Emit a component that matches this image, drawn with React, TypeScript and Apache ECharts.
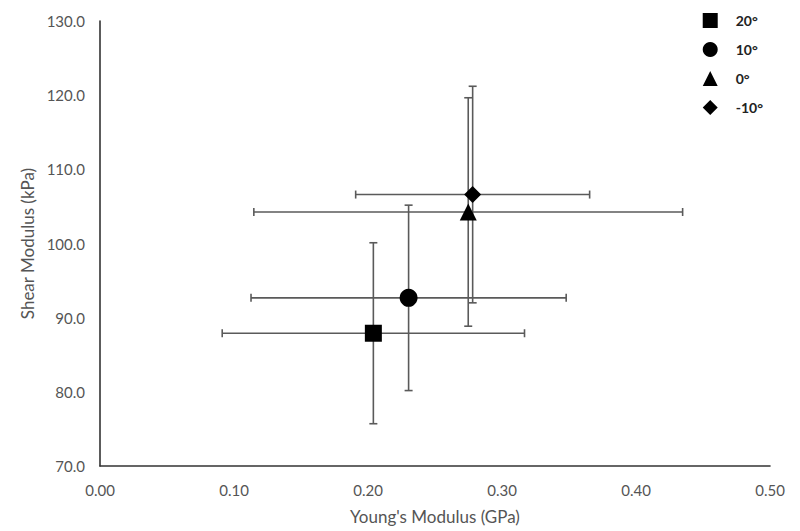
import React, { useEffect, useRef } from "react";
import * as echarts from "echarts";

const seriesNames = ["20°", "10°", "0°", "-10°"];
const symbols = ["rect", "circle", "triangle", "diamond"];
const symbolSizes = [17, 18, 17, 17];
const youngsModulus = [0.204, 0.2303, 0.2748, 0.2781];
const youngsErr = [0.1128, 0.1176, 0.16, 0.0873];
const shearModulus = [87.9, 92.67, 104.25, 106.6];
const shearErr = [12.2, 12.5, 15.4, 14.6];
const xTicks = { min: 0, max: 0.5, interval: 0.1 };
const yTicks = { min: 70, max: 130, interval: 10 };

const FONT = "Lato, 'Open Sans', sans-serif";

export default function App() {
  const ref = useRef<HTMLDivElement>(null);
  useEffect(() => {
    if (!ref.current) return;
    const chart = echarts.init(ref.current, null, { renderer: "svg" });
    const errData = seriesNames.map((_, i) => [
      youngsModulus[i],
      shearModulus[i],
      youngsErr[i],
      shearErr[i],
    ]);
    const cap = 4;
    const lineStyle = { stroke: "#5a5a5a", lineWidth: 1.6 };
    const errorSeries = {
      type: "custom",
      name: "err",
      z: 1,
      silent: true,
      encode: { x: 0, y: 1 },
      data: errData,
      renderItem: (params: any, api: any) => {
        const x = api.value(0);
        const y = api.value(1);
        const ex = api.value(2);
        const ey = api.value(3);
        const l = api.coord([x - ex, y]);
        const r = api.coord([x + ex, y]);
        const t = api.coord([x, y + ey]);
        const b = api.coord([x, y - ey]);
        const mk = (x1: number, y1: number, x2: number, y2: number) => ({
          type: "line",
          shape: { x1, y1, x2, y2 },
          style: lineStyle,
        });
        return {
          type: "group",
          children: [
            mk(l[0], l[1], r[0], r[1]),
            mk(l[0], l[1] - cap, l[0], l[1] + cap),
            mk(r[0], r[1] - cap, r[0], r[1] + cap),
            mk(t[0], t[1], b[0], b[1]),
            mk(t[0] - cap, t[1], t[0] + cap, t[1]),
            mk(b[0] - cap, b[1], b[0] + cap, b[1]),
          ],
        };
      },
    };
    const scatterSeries = seriesNames.map((name, i) => ({
      type: "scatter",
      name,
      z: 3,
      symbol: symbols[i],
      symbolSize: symbolSizes[i],
      itemStyle: { color: "#000", opacity: 1 },
      data: [[youngsModulus[i], shearModulus[i]]],
    }));
    chart.setOption({
      animation: false,
      textStyle: { fontFamily: FONT },
      grid: { left: 100, right: 30, top: 21, bottom: 65 },
      legend: {
        orient: "vertical",
        right: 32,
        top: 8,
        itemWidth: 15,
        itemHeight: 15,
        itemGap: 14,
        data: seriesNames,
        textStyle: {
          fontFamily: FONT,
          fontWeight: "bold",
          fontSize: 14,
          color: "#222",
          padding: [0, 0, 0, 13],
        },
      },
      xAxis: {
        type: "value",
        min: xTicks.min,
        max: xTicks.max,
        interval: xTicks.interval,
        name: "Young's Modulus (GPa)",
        nameLocation: "middle",
        nameGap: 42,
        nameTextStyle: { fontFamily: FONT, fontSize: 17, color: "#555" },
        axisLine: { lineStyle: { color: "#333", width: 1.6 } },
        axisTick: { show: false },
        splitLine: { show: false },
        axisLabel: {
          margin: 16,
          fontSize: 15,
          color: "#555",
          fontFamily: FONT,
          formatter: (v: number) => v.toFixed(2),
        },
      },
      yAxis: {
        type: "value",
        min: yTicks.min,
        max: yTicks.max,
        interval: yTicks.interval,
        name: "Shear Modulus (kPa)",
        nameLocation: "middle",
        nameGap: 64,
        nameTextStyle: { fontFamily: FONT, fontSize: 17, color: "#555" },
        axisLine: { show: true, lineStyle: { color: "#333", width: 1.6 } },
        axisTick: { show: false },
        splitLine: { show: false },
        axisLabel: {
          margin: 15,
          fontSize: 15,
          color: "#555",
          fontFamily: FONT,
          formatter: (v: number) => v.toFixed(1),
        },
      },
      series: [errorSeries, ...scatterSeries],
    });
    return () => chart.dispose();
  }, []);
  return <div ref={ref} style={{ width: 800, height: 531, position: "absolute", left: 0, top: 0 }} />;
}
